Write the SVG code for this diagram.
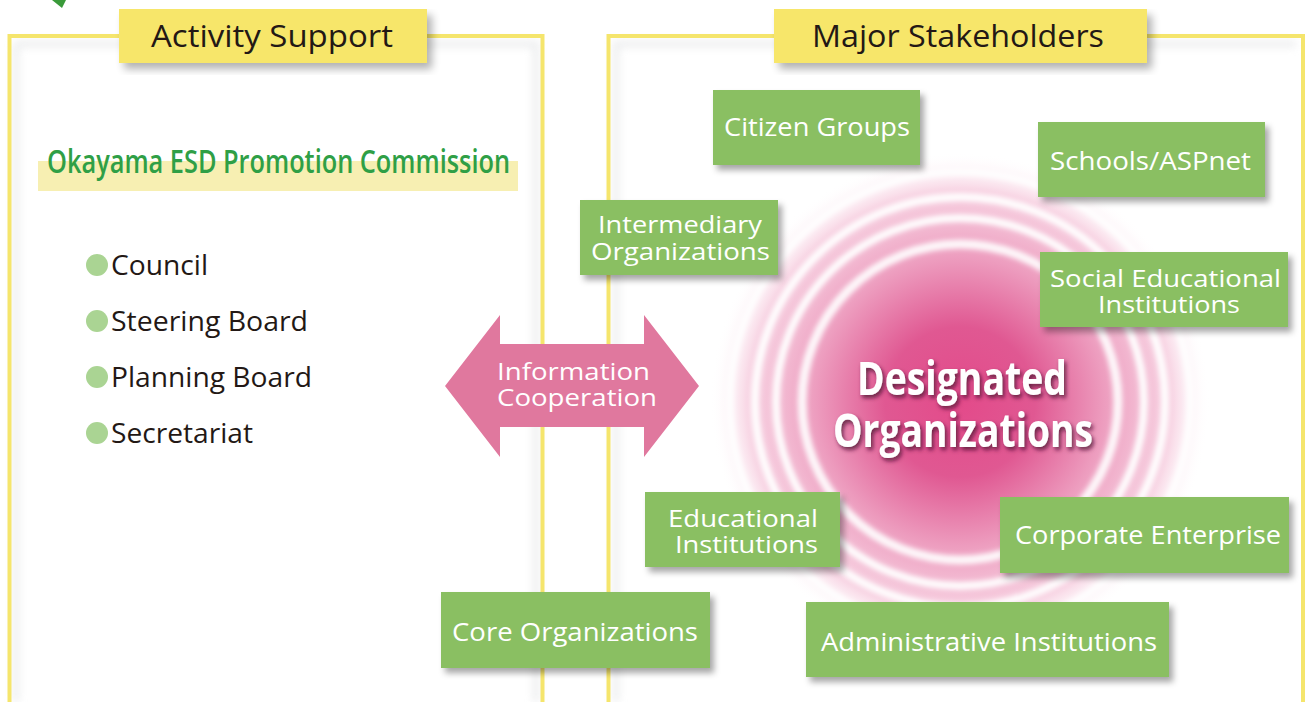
<svg xmlns="http://www.w3.org/2000/svg" width="1307" height="702" viewBox="0 0 1307 702">
<style>
.hdr{font-family:"Open Sans","Noto Sans",sans-serif;font-size:31px;fill:#231815}
.box{fill:#8abf62}
.bt{font-family:"Open Sans","Noto Sans",sans-serif;font-size:25px;fill:#ffffff}
.bt2{font-family:"Open Sans","Noto Sans",sans-serif;font-size:23px;fill:#ffffff}
.li{font-family:"Open Sans","Noto Sans",sans-serif;font-size:28px;fill:#231815}
.dot{fill:#aad493}
.frame{fill:none;stroke:#f5e56c;stroke-width:4}
.hbox{fill:#f7e66a}
.big{font-family:"Open Sans","Noto Sans",sans-serif;font-weight:bold;font-size:46px;fill:#ffffff}
</style>
<defs>
<filter id="sh" x="-10%" y="-10%" width="130%" height="140%">
<feDropShadow dx="4" dy="5" stdDeviation="3" flood-color="#000" flood-opacity="0.35"/>
</filter>
<filter id="tsh" x="-10%" y="-20%" width="130%" height="150%">
<feDropShadow dx="2" dy="3" stdDeviation="2" flood-color="#4a1030" flood-opacity="0.8"/>
</filter>
<filter id="blur4"><feGaussianBlur stdDeviation="4"/></filter>
<filter id="blur2"><feGaussianBlur stdDeviation="2.5"/></filter>
<radialGradient id="glow" cx="960" cy="402" r="250" gradientUnits="userSpaceOnUse">
<stop offset="0" stop-color="#e34a8a"/>
<stop offset="0.3" stop-color="#e05892"/>
<stop offset="0.6" stop-color="#eea2c2"/>
<stop offset="0.85" stop-color="#f8d5e4"/>
<stop offset="1" stop-color="#ffffff" stop-opacity="0"/>
</radialGradient>
</defs>
<rect width="1307" height="702" fill="#ffffff"/>
<path d="M52 0 L66 0 L62 8 Z" fill="#3a9a3a"/>

<g id="panel-activity">
<path d="M16 44 V702 M16 44 H536 V702" fill="none" stroke="#d8dadc" stroke-width="5" filter="url(#blur4)" opacity="0.6"/>
<path d="M9.5 702 V36 H542.5 V702" class="frame"/>
<rect x="124" y="15" width="308" height="54" fill="#000" opacity="0.3" filter="url(#blur4)"/>
<rect x="119" y="9" width="308" height="54" class="hbox"/>
<text x="151" y="47" class="hdr" textLength="242" lengthAdjust="spacingAndGlyphs">Activity Support</text>
<rect x="38" y="161" width="480" height="30" fill="#f7efb2"/>
<text x="47" y="173" font-family="'Open Sans','Noto Sans',sans-serif" font-weight="600" font-size="33" fill="#2f9f46" textLength="463" lengthAdjust="spacingAndGlyphs">Okayama ESD Promotion Commission</text>
<circle cx="97" cy="265" r="11" class="dot"/>
<text x="111" y="275" class="li" textLength="97" lengthAdjust="spacingAndGlyphs">Council</text>
<circle cx="97" cy="321" r="11" class="dot"/>
<text x="111" y="331" class="li" textLength="197" lengthAdjust="spacingAndGlyphs">Steering Board</text>
<circle cx="97" cy="377" r="11" class="dot"/>
<text x="111" y="387" class="li" textLength="201" lengthAdjust="spacingAndGlyphs">Planning Board</text>
<circle cx="97" cy="433" r="11" class="dot"/>
<text x="111" y="443" class="li" textLength="142" lengthAdjust="spacingAndGlyphs">Secretariat</text>
</g>

<g id="panel-stakeholders">
<path d="M616 702 V44 H1296" fill="none" stroke="#d8dadc" stroke-width="5" filter="url(#blur4)" opacity="0.6"/>
<path d="M608.5 702 V36 H1303 V702" class="frame"/>
<rect x="779" y="15" width="373" height="54" fill="#000" opacity="0.3" filter="url(#blur4)"/>
<rect x="774" y="9" width="373" height="54" class="hbox"/>
<text x="812" y="47" class="hdr" textLength="292" lengthAdjust="spacingAndGlyphs">Major Stakeholders</text>
</g>

<g id="designated">
<circle cx="960" cy="402" r="250" fill="url(#glow)"/>
<g fill="none" stroke="#ffffff" filter="url(#blur2)">
<circle cx="960" cy="402" r="230" stroke-width="7" opacity="0.9"/>
<circle cx="960" cy="402" r="205" stroke-width="8" opacity="0.95"/>
<circle cx="960" cy="402" r="184" stroke-width="8" opacity="0.95"/>
<circle cx="960" cy="402" r="158" stroke-width="9" opacity="0.9"/>
</g>
<text x="857" y="395" class="big" textLength="210" lengthAdjust="spacingAndGlyphs" filter="url(#tsh)">Designated</text>
<text x="833" y="447" class="big" textLength="260" lengthAdjust="spacingAndGlyphs" filter="url(#tsh)">Organizations</text>
</g>

<g id="connectors">
<path d="M445 386 L500 315 V344 H644 V315 L699 386 L644 457 V427 H500 V457 Z" fill="#e0789e"/>
<text x="497" y="380" class="bt2" textLength="153" lengthAdjust="spacingAndGlyphs">Information</text>
<text x="497" y="406" class="bt2" textLength="160" lengthAdjust="spacingAndGlyphs">Cooperation</text>
</g>

<g id="citizen-groups">
<rect x="713" y="90" width="207" height="75" class="box" filter="url(#sh)"/>
<text x="724" y="136" class="bt" textLength="186" lengthAdjust="spacingAndGlyphs">Citizen Groups</text>
</g>
<g id="schools-aspnet">
<rect x="1038" y="122" width="227" height="75" class="box" filter="url(#sh)"/>
<text x="1050" y="170" class="bt" textLength="201" lengthAdjust="spacingAndGlyphs">Schools/ASPnet</text>
</g>
<g id="intermediary-organizations">
<rect x="580" y="200" width="198" height="75" class="box" filter="url(#sh)"/>
<text x="598" y="233" class="bt2" textLength="164" lengthAdjust="spacingAndGlyphs">Intermediary</text>
<text x="591" y="260" class="bt2" textLength="179" lengthAdjust="spacingAndGlyphs">Organizations</text>
</g>
<g id="social-educational-institutions">
<rect x="1040" y="252" width="248" height="75" class="box" filter="url(#sh)"/>
<text x="1050" y="287" class="bt2" textLength="231" lengthAdjust="spacingAndGlyphs">Social Educational</text>
<text x="1098" y="313" class="bt2" textLength="142" lengthAdjust="spacingAndGlyphs">Institutions</text>
</g>
<g id="educational-institutions">
<rect x="645" y="492" width="195" height="75" class="box" filter="url(#sh)"/>
<text x="668" y="527" class="bt2" textLength="150" lengthAdjust="spacingAndGlyphs">Educational</text>
<text x="675" y="553" class="bt2" textLength="143" lengthAdjust="spacingAndGlyphs">Institutions</text>
</g>
<g id="corporate-enterprise">
<rect x="1000" y="497" width="289" height="76" class="box" filter="url(#sh)"/>
<text x="1015" y="544" class="bt" textLength="266" lengthAdjust="spacingAndGlyphs">Corporate Enterprise</text>
</g>
<g id="core-organizations">
<rect x="441" y="592" width="269" height="76" class="box" filter="url(#sh)"/>
<text x="452" y="641" class="bt" textLength="246" lengthAdjust="spacingAndGlyphs">Core Organizations</text>
</g>
<g id="administrative-institutions">
<rect x="806" y="602" width="363" height="75" class="box" filter="url(#sh)"/>
<text x="821" y="651" class="bt" textLength="336" lengthAdjust="spacingAndGlyphs">Administrative Institutions</text>
</g>
</svg>
